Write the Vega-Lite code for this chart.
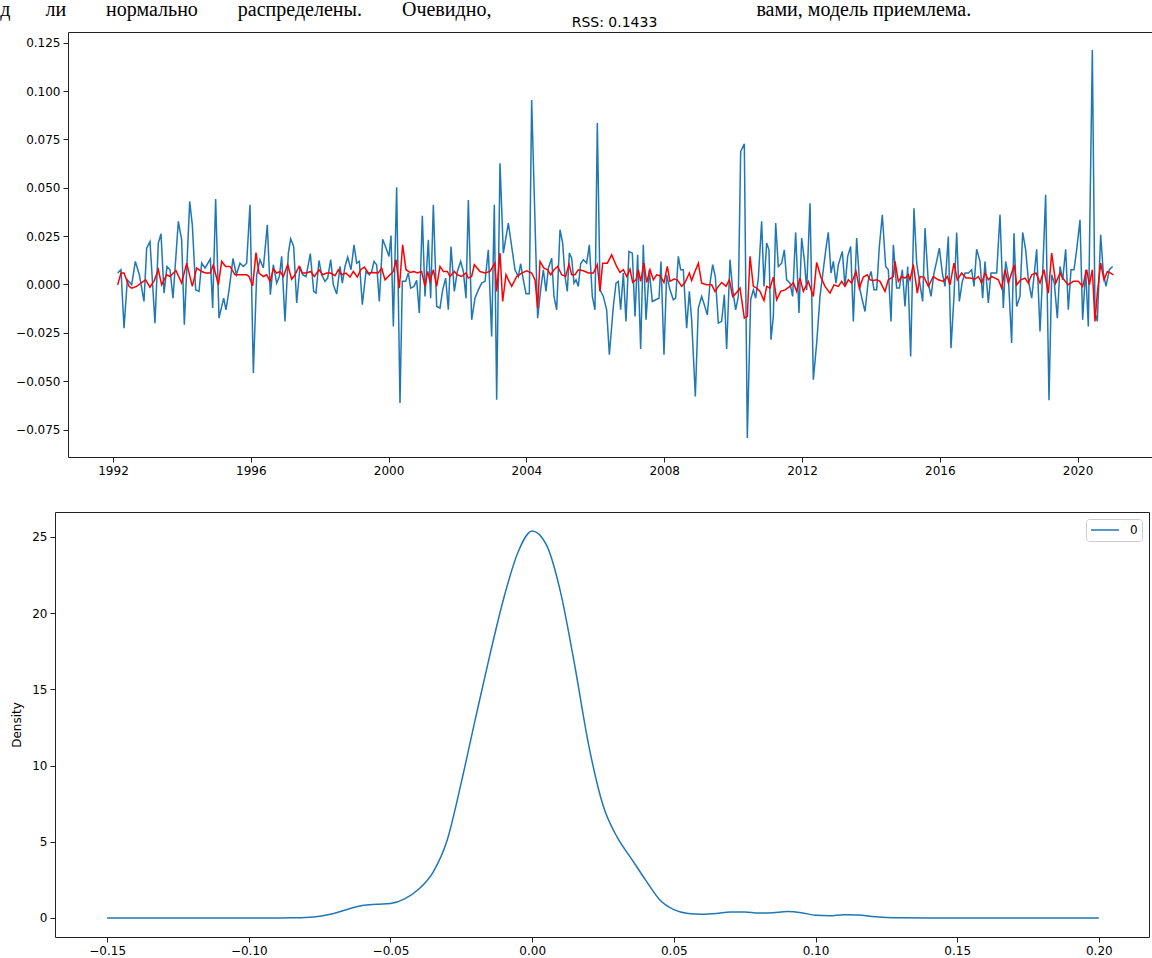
{
  "$schema": "https://vega.github.io/schema/vega-lite/v6.json",
  "padding": {"left": 0, "top": 0, "right": 0, "bottom": 0},
  "title": {
    "text": "д\u00a0\u00a0\u00a0\u00a0\u00a0\u00a0\u00a0ли\u00a0\u00a0\u00a0\u00a0\u00a0\u00a0\u00a0\u00a0нормально\u00a0\u00a0\u00a0\u00a0\u00a0\u00a0\u00a0\u00a0распределены.\u00a0\u00a0\u00a0\u00a0\u00a0\u00a0\u00a0\u00a0Очевидно,\u00a0\u00a0\u00a0\u00a0\u00a0\u00a0\u00a0\u00a0\u00a0\u00a0\u00a0\u00a0\u00a0\u00a0\u00a0\u00a0\u00a0\u00a0\u00a0\u00a0\u00a0\u00a0\u00a0\u00a0\u00a0\u00a0\u00a0\u00a0\u00a0\u00a0\u00a0\u00a0\u00a0\u00a0\u00a0\u00a0\u00a0\u00a0\u00a0\u00a0\u00a0\u00a0\u00a0\u00a0\u00a0\u00a0\u00a0\u00a0\u00a0\u00a0\u00a0\u00a0\u00a0вами, модель приемлема.",
    "anchor": "start",
    "frame": "bounds",
    "font": "Liberation Serif",
    "fontSize": 20,
    "fontWeight": "normal",
    "color": "#000000",
    "offset": -4,
    "dx": -10
  },
  "columns": 1,
  "align": "none",
  "spacing": 35,
  "resolve": {"scale": {"color": "independent"}, "legend": {"color": "independent"}},
  "datasets": {
    "resid": [
      {"t":1992.136,"v":0.0059},{"t":1992.232,"v":0.0076},{"t":1992.320,"v":-0.0226},{"t":1992.416,"v":0.0024},{"t":1992.542,"v":-0.0002},{"t":1992.649,"v":0.0119},{"t":1992.765,"v":0.0050},{"t":1992.900,"v":-0.0088},{"t":1992.978,"v":0.0188},{"t":1993.074,"v":0.0222},{"t":1993.219,"v":-0.0200},{"t":1993.316,"v":0.0214},{"t":1993.394,"v":0.0262},{"t":1993.481,"v":-0.0045},{"t":1993.568,"v":0.0093},{"t":1993.655,"v":0.0076},{"t":1993.742,"v":-0.0071},{"t":1993.897,"v":0.0326},{"t":1993.993,"v":0.0231},{"t":1994.071,"v":-0.0208},{"t":1994.226,"v":0.0429},{"t":1994.303,"v":0.0308},{"t":1994.400,"v":-0.0027},{"t":1994.497,"v":-0.0036},{"t":1994.574,"v":0.0110},{"t":1994.671,"v":0.0085},{"t":1994.826,"v":0.0131},{"t":1994.893,"v":-0.0122},{"t":1994.980,"v":0.0441},{"t":1995.077,"v":-0.0174},{"t":1995.213,"v":-0.0071},{"t":1995.280,"v":-0.0131},{"t":1995.377,"v":-0.0019},{"t":1995.483,"v":0.0134},{"t":1995.580,"v":0.0050},{"t":1995.687,"v":0.0110},{"t":1995.783,"v":0.0093},{"t":1995.880,"v":0.0110},{"t":1995.977,"v":0.0412},{"t":1996.074,"v":-0.0458},{"t":1996.171,"v":0.0050},{"t":1996.267,"v":0.0128},{"t":1996.364,"v":0.0085},{"t":1996.480,"v":0.0308},{"t":1996.567,"v":-0.0053},{"t":1996.654,"v":0.0102},{"t":1996.751,"v":0.0007},{"t":1996.829,"v":0.0041},{"t":1996.896,"v":0.0145},{"t":1996.993,"v":-0.0191},{"t":1997.090,"v":0.0162},{"t":1997.158,"v":0.0236},{"t":1997.245,"v":0.0196},{"t":1997.332,"v":-0.0096},{"t":1997.429,"v":0.0093},{"t":1997.506,"v":0.0050},{"t":1997.603,"v":0.0041},{"t":1997.728,"v":0.0159},{"t":1997.825,"v":-0.0036},{"t":1997.893,"v":-0.0045},{"t":1997.980,"v":0.0124},{"t":1998.057,"v":0.0050},{"t":1998.154,"v":0.0016},{"t":1998.232,"v":0.0033},{"t":1998.319,"v":0.0128},{"t":1998.396,"v":-0.0002},{"t":1998.493,"v":-0.0050},{"t":1998.590,"v":0.0093},{"t":1998.657,"v":0.0007},{"t":1998.735,"v":0.0093},{"t":1998.812,"v":0.0141},{"t":1998.909,"v":0.0076},{"t":1998.996,"v":0.0205},{"t":1999.073,"v":0.0110},{"t":1999.151,"v":0.0119},{"t":1999.238,"v":-0.0105},{"t":1999.344,"v":0.0067},{"t":1999.441,"v":0.0050},{"t":1999.509,"v":0.0067},{"t":1999.576,"v":0.0119},{"t":1999.654,"v":0.0102},{"t":1999.731,"v":-0.0088},{"t":1999.828,"v":0.0234},{"t":1999.944,"v":0.0179},{"t":2000.012,"v":0.0145},{"t":2000.070,"v":0.0253},{"t":2000.138,"v":-0.0217},{"t":2000.234,"v":0.0503},{"t":2000.331,"v":-0.0613},{"t":2000.399,"v":0.0016},{"t":2000.496,"v":0.0016},{"t":2000.573,"v":0.0059},{"t":2000.641,"v":-0.0019},{"t":2000.737,"v":-0.0010},{"t":2000.815,"v":0.0021},{"t":2000.892,"v":-0.0148},{"t":2000.979,"v":0.0355},{"t":2001.057,"v":-0.0062},{"t":2001.154,"v":0.0231},{"t":2001.221,"v":-0.0071},{"t":2001.299,"v":0.0412},{"t":2001.396,"v":-0.0114},{"t":2001.492,"v":-0.0122},{"t":2001.570,"v":-0.0028},{"t":2001.657,"v":0.0033},{"t":2001.734,"v":-0.0131},{"t":2001.812,"v":0.0196},{"t":2001.908,"v":-0.0036},{"t":2001.995,"v":0.0067},{"t":2002.092,"v":0.0119},{"t":2002.170,"v":0.0067},{"t":2002.247,"v":-0.0071},{"t":2002.315,"v":0.0437},{"t":2002.411,"v":-0.0183},{"t":2002.508,"v":-0.0071},{"t":2002.605,"v":-0.0028},{"t":2002.702,"v":0.0007},{"t":2002.799,"v":0.0016},{"t":2002.895,"v":0.0179},{"t":2002.992,"v":-0.0269},{"t":2003.069,"v":0.0412},{"t":2003.137,"v":-0.0596},{"t":2003.234,"v":0.0627},{"t":2003.331,"v":0.0162},{"t":2003.476,"v":0.0317},{"t":2003.573,"v":0.0196},{"t":2003.669,"v":0.0076},{"t":2003.766,"v":0.0041},{"t":2003.834,"v":0.0107},{"t":2003.911,"v":0.0024},{"t":2003.989,"v":-0.0048},{"t":2004.085,"v":-0.0048},{"t":2004.153,"v":0.0954},{"t":2004.327,"v":-0.0174},{"t":2004.414,"v":-0.0028},{"t":2004.492,"v":0.0076},{"t":2004.569,"v":-0.0036},{"t":2004.637,"v":0.0084},{"t":2004.734,"v":0.0136},{"t":2004.801,"v":-0.0062},{"t":2004.879,"v":-0.0131},{"t":2004.976,"v":0.0283},{"t":2005.053,"v":0.0214},{"t":2005.121,"v":0.0041},{"t":2005.188,"v":-0.0036},{"t":2005.247,"v":0.0162},{"t":2005.314,"v":0.0136},{"t":2005.382,"v":0.0007},{"t":2005.440,"v":0.0024},{"t":2005.508,"v":-0.0010},{"t":2005.575,"v":0.0107},{"t":2005.653,"v":0.0128},{"t":2005.750,"v":0.0110},{"t":2005.827,"v":0.0205},{"t":2005.914,"v":-0.0062},{"t":2005.991,"v":-0.0131},{"t":2006.059,"v":0.0834},{"t":2006.137,"v":-0.0028},{"t":2006.233,"v":-0.0062},{"t":2006.330,"v":-0.0131},{"t":2006.408,"v":-0.0363},{"t":2006.524,"v":-0.0114},{"t":2006.601,"v":0.0007},{"t":2006.669,"v":0.0016},{"t":2006.736,"v":-0.0131},{"t":2006.814,"v":0.0059},{"t":2006.891,"v":-0.0191},{"t":2006.978,"v":0.0171},{"t":2007.075,"v":0.0162},{"t":2007.153,"v":-0.0165},{"t":2007.230,"v":0.0153},{"t":2007.317,"v":-0.0334},{"t":2007.394,"v":0.0205},{"t":2007.472,"v":-0.0183},{"t":2007.568,"v":0.0076},{"t":2007.655,"v":-0.0088},{"t":2007.752,"v":-0.0079},{"t":2007.849,"v":-0.0071},{"t":2007.907,"v":0.0119},{"t":2007.994,"v":-0.0363},{"t":2008.071,"v":0.0050},{"t":2008.168,"v":-0.0028},{"t":2008.265,"v":-0.0079},{"t":2008.333,"v":-0.0071},{"t":2008.410,"v":0.0145},{"t":2008.478,"v":0.0076},{"t":2008.555,"v":0.0076},{"t":2008.652,"v":-0.0226},{"t":2008.730,"v":-0.0036},{"t":2008.797,"v":-0.0183},{"t":2008.904,"v":-0.0579},{"t":2008.991,"v":-0.0122},{"t":2009.088,"v":-0.0062},{"t":2009.165,"v":-0.0105},{"t":2009.252,"v":-0.0157},{"t":2009.330,"v":0.0007},{"t":2009.407,"v":0.0102},{"t":2009.484,"v":0.0041},{"t":2009.571,"v":-0.0200},{"t":2009.668,"v":-0.0191},{"t":2009.746,"v":-0.0053},{"t":2009.813,"v":-0.0334},{"t":2009.910,"v":0.0128},{"t":2009.988,"v":-0.0028},{"t":2010.075,"v":-0.0131},{"t":2010.152,"v":-0.0062},{"t":2010.220,"v":0.0687},{"t":2010.326,"v":0.0727},{"t":2010.413,"v":-0.0794},{"t":2010.510,"v":-0.0079},{"t":2010.588,"v":-0.0028},{"t":2010.655,"v":-0.0071},{"t":2010.733,"v":0.0033},{"t":2010.829,"v":0.0326},{"t":2010.897,"v":-0.0010},{"t":2010.974,"v":0.0214},{"t":2011.042,"v":0.0179},{"t":2011.100,"v":-0.0286},{"t":2011.168,"v":-0.0165},{"t":2011.236,"v":0.0317},{"t":2011.313,"v":0.0093},{"t":2011.410,"v":0.0110},{"t":2011.487,"v":0.0179},{"t":2011.555,"v":0.0024},{"t":2011.652,"v":0.0007},{"t":2011.729,"v":-0.0062},{"t":2011.816,"v":0.0269},{"t":2011.913,"v":-0.0148},{"t":2011.991,"v":0.0240},{"t":2012.068,"v":0.0128},{"t":2012.136,"v":-0.0028},{"t":2012.233,"v":0.0420},{"t":2012.329,"v":-0.0492},{"t":2012.426,"v":-0.0303},{"t":2012.523,"v":-0.0062},{"t":2012.619,"v":0.0076},{"t":2012.697,"v":0.0188},{"t":2012.764,"v":0.0269},{"t":2012.842,"v":0.0059},{"t":2012.910,"v":0.0119},{"t":2012.987,"v":0.0007},{"t":2013.055,"v":0.0102},{"t":2013.171,"v":0.0171},{"t":2013.248,"v":-0.0010},{"t":2013.326,"v":0.0145},{"t":2013.413,"v":0.0196},{"t":2013.490,"v":-0.0191},{"t":2013.587,"v":0.0240},{"t":2013.684,"v":-0.0028},{"t":2013.829,"v":-0.0140},{"t":2013.926,"v":0.0024},{"t":2014.003,"v":0.0067},{"t":2014.090,"v":-0.0027},{"t":2014.168,"v":-0.0027},{"t":2014.245,"v":0.0196},{"t":2014.332,"v":0.0360},{"t":2014.429,"v":0.0093},{"t":2014.506,"v":0.0076},{"t":2014.584,"v":-0.0191},{"t":2014.652,"v":0.0205},{"t":2014.748,"v":-0.0019},{"t":2014.826,"v":-0.0019},{"t":2014.913,"v":0.0076},{"t":2014.990,"v":-0.0114},{"t":2015.068,"v":0.0093},{"t":2015.155,"v":-0.0372},{"t":2015.251,"v":0.0394},{"t":2015.329,"v":0.0110},{"t":2015.426,"v":-0.0002},{"t":2015.503,"v":-0.0088},{"t":2015.571,"v":0.0291},{"t":2015.668,"v":0.0007},{"t":2015.745,"v":-0.0062},{"t":2015.832,"v":0.0059},{"t":2015.909,"v":0.0119},{"t":2015.987,"v":0.0188},{"t":2016.074,"v":0.0059},{"t":2016.151,"v":-0.0010},{"t":2016.248,"v":0.0248},{"t":2016.325,"v":-0.0329},{"t":2016.412,"v":-0.0062},{"t":2016.490,"v":0.0269},{"t":2016.567,"v":-0.0088},{"t":2016.654,"v":0.0016},{"t":2016.732,"v":0.0059},{"t":2016.829,"v":0.0059},{"t":2016.925,"v":0.0076},{"t":2016.993,"v":-0.0010},{"t":2017.070,"v":0.0182},{"t":2017.167,"v":0.0119},{"t":2017.244,"v":-0.0071},{"t":2017.312,"v":0.0119},{"t":2017.409,"v":-0.0096},{"t":2017.486,"v":0.0059},{"t":2017.554,"v":0.0059},{"t":2017.651,"v":0.0059},{"t":2017.748,"v":0.0360},{"t":2017.844,"v":-0.0122},{"t":2017.912,"v":0.0119},{"t":2017.990,"v":0.0041},{"t":2018.086,"v":-0.0303},{"t":2018.154,"v":0.0265},{"t":2018.231,"v":-0.0114},{"t":2018.328,"v":-0.0062},{"t":2018.406,"v":0.0269},{"t":2018.493,"v":0.0179},{"t":2018.570,"v":0.0024},{"t":2018.667,"v":-0.0071},{"t":2018.745,"v":0.0059},{"t":2018.812,"v":0.0182},{"t":2018.909,"v":-0.0243},{"t":2018.986,"v":0.0059},{"t":2019.073,"v":0.0463},{"t":2019.170,"v":-0.0599},{"t":2019.248,"v":0.0050},{"t":2019.325,"v":0.0007},{"t":2019.412,"v":-0.0174},{"t":2019.490,"v":0.0093},{"t":2019.567,"v":0.0024},{"t":2019.654,"v":0.0182},{"t":2019.731,"v":-0.0131},{"t":2019.809,"v":0.0076},{"t":2019.896,"v":0.0076},{"t":2019.973,"v":0.0179},{"t":2020.070,"v":0.0334},{"t":2020.147,"v":-0.0183},{"t":2020.234,"v":0.0076},{"t":2020.312,"v":-0.0217},{"t":2020.428,"v":0.1212},{"t":2020.505,"v":-0.0148},{"t":2020.573,"v":-0.0191},{"t":2020.670,"v":0.0257},{"t":2020.747,"v":0.0059},{"t":2020.825,"v":-0.0010},{"t":2020.921,"v":0.0076},{"t":2021.018,"v":0.0093}
    ],
    "pred": [
      {"t":1992.136,"v":-0.0002},{"t":1992.232,"v":0.0059},{"t":1992.320,"v":0.0059},{"t":1992.465,"v":-0.0010},{"t":1992.542,"v":-0.0019},{"t":1992.687,"v":-0.0010},{"t":1992.832,"v":0.0010},{"t":1992.948,"v":0.0024},{"t":1993.074,"v":-0.0015},{"t":1993.200,"v":0.0021},{"t":1993.316,"v":0.0076},{"t":1993.413,"v":-0.0002},{"t":1993.558,"v":0.0050},{"t":1993.655,"v":0.0041},{"t":1993.752,"v":0.0059},{"t":1993.829,"v":0.0071},{"t":1993.993,"v":0.0007},{"t":1994.139,"v":0.0110},{"t":1994.303,"v":-0.0010},{"t":1994.429,"v":0.0085},{"t":1994.574,"v":0.0067},{"t":1994.690,"v":0.0059},{"t":1994.826,"v":0.0059},{"t":1994.913,"v":0.0102},{"t":1995.058,"v":-0.0002},{"t":1995.155,"v":0.0119},{"t":1995.271,"v":0.0093},{"t":1995.396,"v":0.0093},{"t":1995.542,"v":0.0050},{"t":1995.687,"v":0.0050},{"t":1995.880,"v":0.0050},{"t":1995.948,"v":0.0041},{"t":1996.055,"v":-0.0007},{"t":1996.151,"v":0.0165},{"t":1996.238,"v":0.0059},{"t":1996.364,"v":0.0041},{"t":1996.461,"v":0.0050},{"t":1996.558,"v":0.0016},{"t":1996.654,"v":0.0079},{"t":1996.751,"v":0.0059},{"t":1996.848,"v":0.0067},{"t":1996.945,"v":0.0041},{"t":1997.071,"v":0.0102},{"t":1997.187,"v":0.0027},{"t":1997.283,"v":0.0050},{"t":1997.400,"v":0.0093},{"t":1997.496,"v":0.0059},{"t":1997.622,"v":0.0059},{"t":1997.738,"v":0.0067},{"t":1997.845,"v":0.0041},{"t":1997.980,"v":0.0076},{"t":1998.087,"v":0.0050},{"t":1998.203,"v":0.0059},{"t":1998.319,"v":0.0059},{"t":1998.445,"v":0.0045},{"t":1998.541,"v":0.0076},{"t":1998.638,"v":0.0050},{"t":1998.764,"v":0.0059},{"t":1998.880,"v":0.0038},{"t":1998.977,"v":0.0067},{"t":1999.093,"v":0.0038},{"t":1999.190,"v":0.0076},{"t":1999.296,"v":0.0090},{"t":1999.412,"v":0.0059},{"t":1999.557,"v":0.0062},{"t":1999.702,"v":0.0059},{"t":1999.799,"v":0.0084},{"t":1999.896,"v":0.0024},{"t":2000.041,"v":0.0050},{"t":2000.138,"v":0.0067},{"t":2000.215,"v":0.0128},{"t":2000.312,"v":-0.0019},{"t":2000.408,"v":0.0205},{"t":2000.505,"v":0.0076},{"t":2000.621,"v":0.0062},{"t":2000.737,"v":0.0067},{"t":2000.834,"v":0.0059},{"t":2000.960,"v":0.0067},{"t":2001.057,"v":-0.0010},{"t":2001.134,"v":0.0067},{"t":2001.202,"v":0.0016},{"t":2001.299,"v":0.0076},{"t":2001.396,"v":-0.0010},{"t":2001.492,"v":0.0093},{"t":2001.589,"v":0.0067},{"t":2001.705,"v":0.0067},{"t":2001.783,"v":0.0041},{"t":2001.908,"v":0.0067},{"t":2001.995,"v":0.0050},{"t":2002.121,"v":0.0041},{"t":2002.247,"v":0.0059},{"t":2002.315,"v":0.0033},{"t":2002.411,"v":0.0041},{"t":2002.489,"v":0.0102},{"t":2002.653,"v":0.0067},{"t":2002.799,"v":0.0059},{"t":2002.944,"v":0.0067},{"t":2003.089,"v":0.0110},{"t":2003.137,"v":-0.0036},{"t":2003.234,"v":0.0162},{"t":2003.311,"v":-0.0088},{"t":2003.408,"v":0.0050},{"t":2003.476,"v":0.0024},{"t":2003.573,"v":-0.0010},{"t":2003.718,"v":0.0041},{"t":2003.863,"v":0.0059},{"t":2004.008,"v":0.0071},{"t":2004.153,"v":0.0059},{"t":2004.250,"v":0.0024},{"t":2004.327,"v":-0.0122},{"t":2004.395,"v":0.0119},{"t":2004.511,"v":0.0084},{"t":2004.618,"v":0.0076},{"t":2004.705,"v":0.0050},{"t":2004.801,"v":0.0076},{"t":2004.908,"v":0.0093},{"t":2005.024,"v":0.0050},{"t":2005.140,"v":0.0041},{"t":2005.237,"v":0.0105},{"t":2005.314,"v":0.0050},{"t":2005.411,"v":0.0050},{"t":2005.508,"v":0.0076},{"t":2005.653,"v":0.0071},{"t":2005.798,"v":0.0059},{"t":2005.943,"v":0.0059},{"t":2006.059,"v":0.0102},{"t":2006.137,"v":-0.0036},{"t":2006.214,"v":0.0110},{"t":2006.350,"v":0.0110},{"t":2006.475,"v":0.0153},{"t":2006.620,"v":0.0093},{"t":2006.717,"v":0.0062},{"t":2006.814,"v":0.0076},{"t":2006.911,"v":0.0041},{"t":2007.007,"v":0.0079},{"t":2007.085,"v":0.0010},{"t":2007.182,"v":0.0024},{"t":2007.249,"v":0.0076},{"t":2007.317,"v":0.0016},{"t":2007.414,"v":0.0110},{"t":2007.491,"v":0.0010},{"t":2007.588,"v":0.0076},{"t":2007.685,"v":0.0024},{"t":2007.781,"v":0.0050},{"t":2007.878,"v":0.0045},{"t":2007.994,"v":0.0010},{"t":2008.091,"v":0.0093},{"t":2008.168,"v":0.0016},{"t":2008.285,"v":0.0028},{"t":2008.381,"v":0.0024},{"t":2008.507,"v":-0.0010},{"t":2008.604,"v":0.0010},{"t":2008.730,"v":0.0059},{"t":2008.797,"v":0.0021},{"t":2008.894,"v":0.0067},{"t":2008.991,"v":0.0110},{"t":2009.088,"v":0.0007},{"t":2009.233,"v":-0.0002},{"t":2009.378,"v":-0.0002},{"t":2009.475,"v":-0.0036},{"t":2009.572,"v":-0.0010},{"t":2009.669,"v":0.0010},{"t":2009.794,"v":-0.0010},{"t":2009.891,"v":0.0024},{"t":2009.988,"v":-0.0062},{"t":2010.085,"v":-0.0045},{"t":2010.201,"v":-0.0019},{"t":2010.326,"v":-0.0174},{"t":2010.413,"v":-0.0165},{"t":2010.491,"v":0.0145},{"t":2010.588,"v":-0.0010},{"t":2010.684,"v":-0.0019},{"t":2010.781,"v":-0.0036},{"t":2010.897,"v":-0.0083},{"t":2010.975,"v":-0.0010},{"t":2011.071,"v":-0.0019},{"t":2011.168,"v":0.0038},{"t":2011.265,"v":-0.0079},{"t":2011.381,"v":-0.0036},{"t":2011.507,"v":-0.0028},{"t":2011.652,"v":-0.0010},{"t":2011.749,"v":0.0010},{"t":2011.845,"v":-0.0036},{"t":2011.942,"v":0.0033},{"t":2012.039,"v":-0.0036},{"t":2012.184,"v":0.0016},{"t":2012.329,"v":-0.0062},{"t":2012.426,"v":0.0114},{"t":2012.542,"v":0.0041},{"t":2012.668,"v":-0.0010},{"t":2012.813,"v":-0.0045},{"t":2012.929,"v":-0.0002},{"t":2013.055,"v":-0.0010},{"t":2013.152,"v":0.0016},{"t":2013.248,"v":-0.0010},{"t":2013.345,"v":0.0024},{"t":2013.442,"v":0.0007},{"t":2013.568,"v":0.0067},{"t":2013.665,"v":-0.0019},{"t":2013.781,"v":0.0038},{"t":2013.897,"v":0.0050},{"t":2013.974,"v":0.0024},{"t":2014.071,"v":0.0021},{"t":2014.168,"v":0.0024},{"t":2014.265,"v":0.0016},{"t":2014.410,"v":-0.0036},{"t":2014.506,"v":0.0024},{"t":2014.652,"v":0.0041},{"t":2014.700,"v":0.0119},{"t":2014.797,"v":0.0016},{"t":2014.893,"v":0.0041},{"t":2014.990,"v":0.0033},{"t":2015.087,"v":0.0050},{"t":2015.135,"v":0.0024},{"t":2015.232,"v":0.0102},{"t":2015.348,"v":-0.0045},{"t":2015.426,"v":0.0041},{"t":2015.542,"v":0.0038},{"t":2015.668,"v":-0.0010},{"t":2015.812,"v":0.0041},{"t":2015.957,"v":0.0024},{"t":2016.103,"v":0.0016},{"t":2016.219,"v":0.0041},{"t":2016.296,"v":-0.0002},{"t":2016.412,"v":0.0110},{"t":2016.509,"v":0.0024},{"t":2016.635,"v":0.0059},{"t":2016.761,"v":0.0033},{"t":2016.877,"v":0.0033},{"t":2017.022,"v":0.0028},{"t":2017.119,"v":0.0041},{"t":2017.216,"v":0.0007},{"t":2017.312,"v":0.0059},{"t":2017.409,"v":0.0024},{"t":2017.506,"v":0.0041},{"t":2017.603,"v":0.0033},{"t":2017.699,"v":0.0024},{"t":2017.796,"v":-0.0019},{"t":2017.893,"v":0.0076},{"t":2017.990,"v":0.0007},{"t":2018.164,"v":0.0102},{"t":2018.231,"v":-0.0002},{"t":2018.348,"v":0.0024},{"t":2018.473,"v":0.0033},{"t":2018.570,"v":0.0007},{"t":2018.667,"v":0.0050},{"t":2018.793,"v":0.0059},{"t":2018.909,"v":0.0007},{"t":2019.025,"v":0.0076},{"t":2019.151,"v":-0.0045},{"t":2019.248,"v":0.0162},{"t":2019.364,"v":0.0007},{"t":2019.490,"v":0.0059},{"t":2019.606,"v":0.0024},{"t":2019.731,"v":-0.0002},{"t":2019.877,"v":0.0016},{"t":2020.021,"v":0.0016},{"t":2020.147,"v":-0.0010},{"t":2020.264,"v":0.0076},{"t":2020.341,"v":-0.0002},{"t":2020.428,"v":0.0076},{"t":2020.505,"v":-0.0191},{"t":2020.573,"v":-0.0045},{"t":2020.670,"v":0.0110},{"t":2020.767,"v":0.0024},{"t":2020.864,"v":0.0067},{"t":2020.960,"v":0.0059},{"t":2021.038,"v":0.0050}
    ],
    "dens": [
      {"x":-0.15,"d":0,"s":"0"},{"x":-0.13,"d":0,"s":"0"},{"x":-0.11,"d":0,"s":"0"},{"x":-0.09,"d":0.005,"s":"0"},{"x":-0.085,"d":0.015,"s":"0"},{"x":-0.08,"d":0.04,"s":"0"},{"x":-0.075,"d":0.12,"s":"0"},{"x":-0.07,"d":0.3,"s":"0"},{"x":-0.065,"d":0.58,"s":"0"},{"x":-0.06,"d":0.82,"s":"0"},{"x":-0.055,"d":0.9,"s":"0"},{"x":-0.05,"d":0.95,"s":"0"},{"x":-0.045,"d":1.25,"s":"0"},{"x":-0.04,"d":1.9,"s":"0"},{"x":-0.035,"d":3.0,"s":"0"},{"x":-0.03,"d":5.1,"s":"0"},{"x":-0.025,"d":8.9,"s":"0"},{"x":-0.02,"d":13.1,"s":"0"},{"x":-0.015,"d":17.2,"s":"0"},{"x":-0.01,"d":21.0,"s":"0"},{"x":-0.005,"d":24.0,"s":"0"},{"x":0.0,"d":25.4,"s":"0"},{"x":0.005,"d":24.5,"s":"0"},{"x":0.01,"d":21.4,"s":"0"},{"x":0.015,"d":16.6,"s":"0"},{"x":0.02,"d":11.3,"s":"0"},{"x":0.025,"d":7.4,"s":"0"},{"x":0.03,"d":5.3,"s":"0"},{"x":0.035,"d":3.9,"s":"0"},{"x":0.04,"d":2.5,"s":"0"},{"x":0.045,"d":1.2,"s":"0"},{"x":0.05,"d":0.55,"s":"0"},{"x":0.055,"d":0.3,"s":"0"},{"x":0.06,"d":0.25,"s":"0"},{"x":0.065,"d":0.3,"s":"0"},{"x":0.07,"d":0.4,"s":"0"},{"x":0.075,"d":0.4,"s":"0"},{"x":0.08,"d":0.32,"s":"0"},{"x":0.085,"d":0.35,"s":"0"},{"x":0.09,"d":0.42,"s":"0"},{"x":0.095,"d":0.35,"s":"0"},{"x":0.1,"d":0.18,"s":"0"},{"x":0.105,"d":0.15,"s":"0"},{"x":0.11,"d":0.22,"s":"0"},{"x":0.115,"d":0.2,"s":"0"},{"x":0.12,"d":0.1,"s":"0"},{"x":0.125,"d":0.04,"s":"0"},{"x":0.13,"d":0.01,"s":"0"},{"x":0.14,"d":0,"s":"0"},{"x":0.16,"d":0,"s":"0"},{"x":0.18,"d":0,"s":"0"},{"x":0.2,"d":0,"s":"0"}
    ]
  },
  "concat": [
    {
      "width": 1097,
      "height": 425,
      "title": {"text": "RSS: 0.1433", "dx": 11, "offset": 2},
      "view": {"stroke": null},
      "layer": [
        {
          "data": {"name": "resid"},
          "mark": {"type": "line", "color": "#1f77b4", "strokeWidth": 1.5},
          "encoding": {
            "x": {
              "field": "t",
              "type": "quantitative",
              "scale": {"domain": [1990.694, 2022.16], "range": [13, 1097], "nice": false, "zero": false},
              "axis": {"orient": "bottom", "values": [1992, 1996, 2000, 2004, 2008, 2012, 2016, 2020], "format": "d", "title": null, "labelFlush": false}
            },
            "y": {
              "field": "v",
              "type": "quantitative",
              "scale": {"domain": [-0.0892, 0.1305], "nice": false, "zero": false},
              "axis": {"orient": "left", "offset": -13, "values": [-0.075, -0.05, -0.025, 0, 0.025, 0.05, 0.075, 0.1, 0.125], "format": ".3f", "title": null}
            }
          }
        },
        {
          "data": {"name": "pred"},
          "mark": {"type": "line", "color": "#ff0000", "strokeWidth": 1.5},
          "encoding": {
            "x": {
              "field": "t",
              "type": "quantitative",
              "axis": {"orient": "top", "labels": false, "ticks": false, "title": null, "domain": true}
            },
            "y": {
              "field": "v",
              "type": "quantitative",
              "axis": {"orient": "left", "offset": -13, "values": [-0.075, -0.05, -0.025, 0, 0.025, 0.05, 0.075, 0.1, 0.125], "format": ".3f", "title": null}
            }
          }
        }
      ]
    },
    {
      "width": 1094,
      "height": 425,
      "data": {"name": "dens"},
      "mark": {"type": "line", "strokeWidth": 1.5, "interpolate": "monotone"},
      "encoding": {
        "x": {
          "field": "x",
          "type": "quantitative",
          "scale": {"domain": [-0.1684, 0.2177], "nice": false, "zero": false},
          "axis": {"values": [-0.15, -0.1, -0.05, 0, 0.05, 0.1, 0.15, 0.2], "format": ".2f", "title": null, "domain": false, "labelFlush": false}
        },
        "y": {
          "field": "d",
          "type": "quantitative",
          "scale": {"domain": [-1.247, 26.64], "nice": false, "zero": false},
          "axis": {"values": [0, 5, 10, 15, 20, 25], "title": "Density", "domain": false, "titlePadding": 8}
        },
        "color": {
          "field": "s",
          "type": "nominal",
          "scale": {"domain": ["0"], "range": ["#1f77b4"]},
          "legend": {
            "title": null,
            "orient": "top-right",
            "offset": 7,
            "padding": 4,
            "strokeColor": "#cccccc",
            "fillColor": "#ffffff",
            "cornerRadius": 3,
            "symbolType": "stroke",
            "symbolSize": 784,
            "symbolStrokeWidth": 1.5,
            "clipHeight": 14,
            "labelFontSize": 12,
            "labelFont": "DejaVu Sans",
            "labelColor": "#000000",
            "labelOffset": 10
          }
        }
      }
    }
  ],
  "config": {
    "font": "DejaVu Sans",
    "view": {"stroke": "#222222", "strokeWidth": 1},
    "axis": {
      "grid": false,
      "labelFont": "DejaVu Sans",
      "labelFontSize": 12,
      "labelColor": "#000000",
      "labelPadding": 3,
      "labelOverlap": false,
      "tickColor": "#222222",
      "tickSize": 5,
      "domainColor": "#222222",
      "titleFont": "DejaVu Sans",
      "titleFontSize": 12,
      "titleFontWeight": "normal",
      "titleColor": "#000000"
    },
    "title": {"font": "DejaVu Sans", "fontSize": 14, "fontWeight": "normal", "color": "#000000"}
  }
}
